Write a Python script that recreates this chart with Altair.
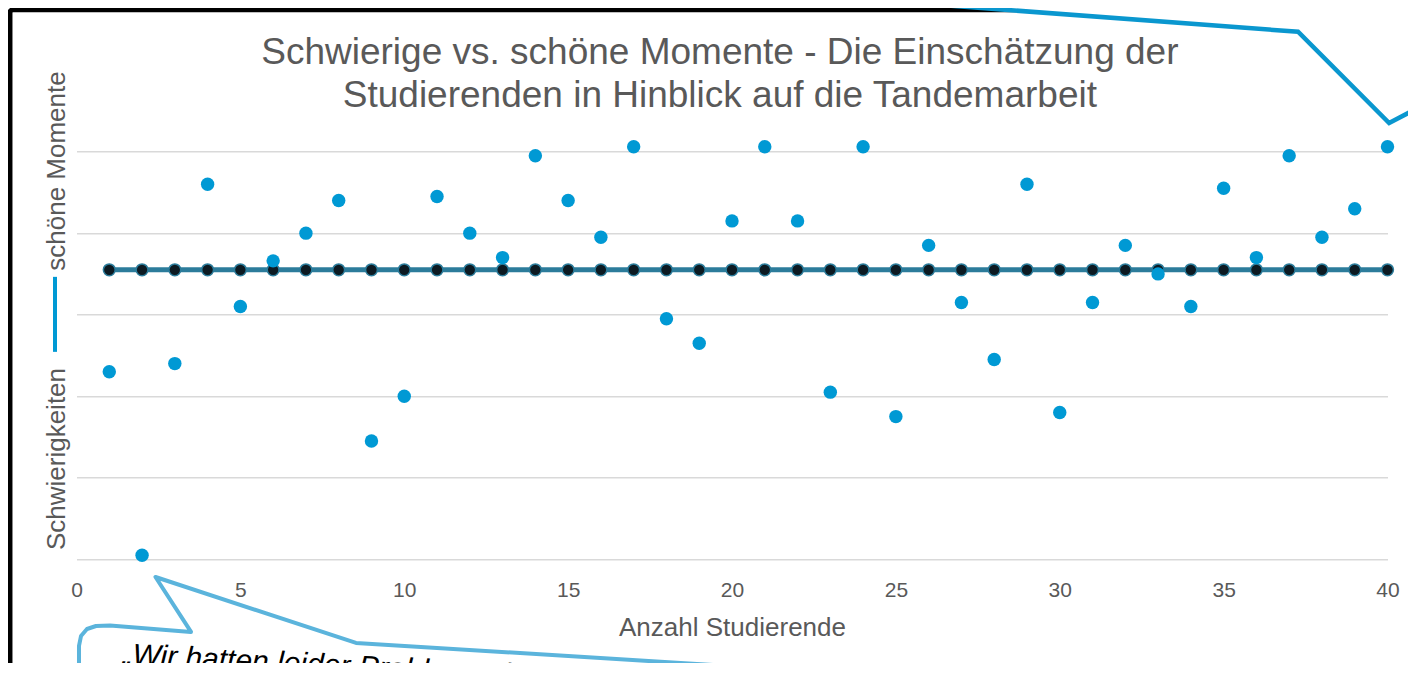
import altair as alt
import pandas as pd

# ---- data ----
students = list(range(1, 41))
ratings = [2.30, 0.05, 2.40, 4.60, 3.10, 3.66, 4.00, 4.40, 1.45, 2.00,
           4.45, 4.00, 3.70, 4.95, 4.40, 3.95, 5.06, 2.95, 2.65, 4.15,
           5.06, 4.15, 2.05, 5.06, 1.75, 3.85, 3.15, 2.45, 4.60, 1.80,
           3.15, 3.85, 3.50, 3.10, 4.55, 3.70, 4.95, 3.95, 4.30, 5.06]
mean_rating = [3.55] * 40
x_ticks = [0, 5, 10, 15, 20, 25, 30, 35, 40]
y_grid = [0, 1, 2, 3, 4, 5]

title_lines = ["Schwierige vs. schöne Momente - Die Einschätzung der",
               "Studierenden in Hinblick auf die Tandemarbeit"]
x_title = "Anzahl Studierende"
y_title_low = "Schwierigkeiten"
y_title_high = "schöne Momente"
quote_text = "„Wir hatten leider Probleme, bei der Terminfindung …"

# decorative callouts, expressed in chart (data) units
top_callout_x = [22.99, 37.27, 40.05, 40.90, 42.21]
top_callout_y = [6.90, 6.47, 5.35, 5.53, 5.82]
bottom_callout_x = [0.076, 0.076, 0.137, 0.320, 0.595, 1.022, 3.494, 2.410,
                    8.528, 19.419, 19.754, 19.968, 20.059, 20.090]
bottom_callout_y = [-1.971, -1.063, -0.941, -0.855, -0.818, -0.812, -0.891, -0.217,
                    -1.026, -1.296, -1.321, -1.394, -1.541, -1.971]

BLUE = "#0099D4"
TEAL = "#2C7C9B"
GREY = "#595959"
FONT = "Liberation Sans"

pts = pd.DataFrame({"x": students, "y": ratings})
mean_df = pd.DataFrame({"x": students, "y": mean_rating})

x_scale = alt.Scale(domain=[0, 40], nice=False, zero=False)
y_scale = alt.Scale(domain=[0, 5.2], nice=False, zero=False)
x_axis = alt.Axis(values=x_ticks, grid=False, ticks=False, domain=False,
                  labelFontSize=21, labelColor=GREY, labelFont=FONT,
                  labelBaseline="alphabetic", labelPadding=37, labelFlush=False,
                  title=x_title, titleFontSize=26, titleColor=GREY, titleFont=FONT,
                  titleFontWeight="normal", titleBaseline="alphabetic", titleY=76)
y_axis = alt.Axis(values=y_grid, grid=True, gridColor="#D9D9D9", gridWidth=1.5,
                  labels=False, ticks=False, domain=False, title=None)


def X(field="x"):
    return alt.X(f"{field}:Q", scale=x_scale, axis=x_axis)


def Y(field="y"):
    return alt.Y(f"{field}:Q", scale=y_scale, axis=y_axis)


mean_line = alt.Chart(mean_df).mark_line(color=TEAL, strokeWidth=5).encode(x=X(), y=Y())
mean_pts = alt.Chart(mean_df).mark_point(
    filled=True, fill="#0C1A22", stroke=TEAL, strokeWidth=1.5, size=140, opacity=1
).encode(x=X(), y=Y())
blue_pts = alt.Chart(pts).mark_circle(color=BLUE, size=180, opacity=1).encode(x=X(), y=Y())

# frame of the slide picture
frame_df = pd.DataFrame({"x": [-2.03], "x2": [45], "y": [6.74], "y2": [-3]})
frame = alt.Chart(frame_df).mark_rect(
    filled=False, stroke="black", strokeWidth=5, cornerRadius=3, fillOpacity=0
).encode(x=X(), x2="x2:Q", y=Y(), y2="y2:Q")

# top callout (white filled, blue outline)
top_df = pd.DataFrame({"x": top_callout_x, "y": top_callout_y, "y2": [9.0] * 5})
top_fill = alt.Chart(top_df).mark_area(color="white", opacity=1).encode(
    x=X(), y=Y(), y2="y2:Q")
top_line = alt.Chart(top_df).mark_line(color="#0A97CF", strokeWidth=4.5,
                                       strokeJoin="miter").encode(x=X(), y=Y())

# bottom callout
bot_df = pd.DataFrame({"x": bottom_callout_x, "y": bottom_callout_y,
                       "o": list(range(len(bottom_callout_x)))})
bot_line = alt.Chart(bot_df).mark_line(color="#5BB4DC", strokeWidth=4,
                                       strokeJoin="round").encode(
    x=X(), y=Y(), order="o:Q")

quote_df = pd.DataFrame({"x": [1.388], "y": [-1.284], "t": [quote_text]})
quote = alt.Chart(quote_df).mark_text(
    align="left", baseline="alphabetic", angle=3, fontSize=30,
    font=FONT, fontStyle="italic", color="black"
).encode(x=X(), y=Y(), text="t:N")

# title
title_df = pd.DataFrame({"x": [19.63, 19.63], "y": [6.080, 5.541], "t": title_lines})
title = alt.Chart(title_df).mark_text(
    align="center", baseline="alphabetic", fontSize=37, font=FONT, color=GREY
).encode(x=X(), y=Y(), text="t:N")

# y-axis title made of two texts and a blue line symbol
ylab_df = pd.DataFrame({"x": [-0.351, -0.351], "y": [4.762, 1.230],
                        "t": [y_title_high, y_title_low]})
ylab = alt.Chart(ylab_df).mark_text(
    align="center", baseline="alphabetic", angle=270, fontSize=26, font=FONT, color=GREY
).encode(x=X(), y=Y(), text="t:N")
ysym_df = pd.DataFrame({"x": [-0.656], "y": [3.464], "y2": [2.544]})
ysym = alt.Chart(ysym_df).mark_rule(color=BLUE, strokeWidth=4).encode(
    x=X(), y=Y(), y2="y2:Q")

chart = alt.layer(
    frame, mean_line, mean_pts, blue_pts, top_fill, top_line, bot_line, quote,
    title, ylab, ysym
).properties(
    width=1311, height=424,
    padding={"left": 68.5, "top": 127.3, "right": 20.5, "bottom": 103.7},
    autosize=alt.AutoSizeParams(type="none"),
    background="white",
).configure_view(strokeWidth=0)

chart.save("out.html", embed_options={"renderer": "svg", "actions": False})
